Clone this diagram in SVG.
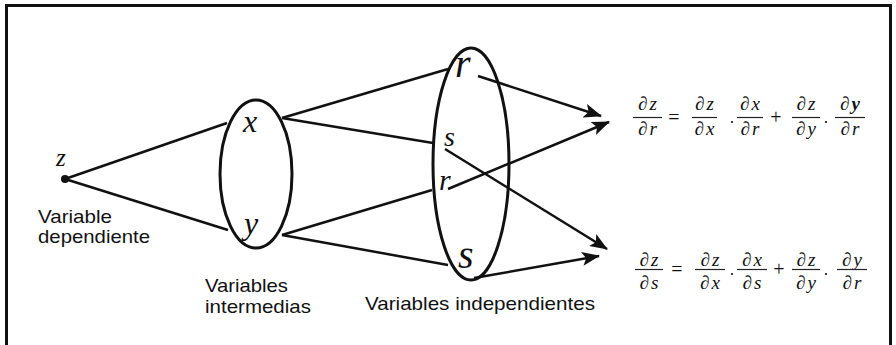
<svg xmlns="http://www.w3.org/2000/svg" width="896" height="345" viewBox="0 0 896 345">
<style>
.lbl{font-size:19px;fill:#111}
.var{font-style:italic;fill:#111}
.eq{font-size:19px;fill:#111;text-anchor:middle}
.eq .i{font-style:italic}
.op{font-size:20px;fill:#111;text-anchor:middle}
.fl{stroke:#222;stroke-width:1.2}
.ell{fill:none;stroke:#111;stroke-width:3}
.con{fill:none;stroke:#111;stroke-width:2.5}
.arr{fill:none;stroke:#111;stroke-width:2.5;marker-end:url(#ah)}
</style>
<defs>
<marker id="ah" markerUnits="userSpaceOnUse" markerWidth="18" markerHeight="14" viewBox="0 0 18 14" refX="17" refY="7" orient="auto">
<path d="M0,0 L18,7 L0,14 L4,7 Z" fill="#111"/>
</marker>
</defs>
<rect width="896" height="345" fill="#fff"/>
<path d="M6.5,345 V5.5 H890.5 V345" fill="none" stroke="#111" stroke-width="3"/>

<g id="connectors">
<line class="con" x1="65" y1="179" x2="227" y2="123"/>
<line class="con" x1="65" y1="179" x2="228" y2="230"/>
<line class="con" x1="282" y1="118" x2="448" y2="69"/>
<line class="con" x1="282" y1="118" x2="433" y2="143"/>
<line class="con" x1="282" y1="235" x2="432" y2="190"/>
<line class="con" x1="282" y1="235" x2="448" y2="265"/>
<line class="arr" x1="478" y1="76" x2="601" y2="116"/>
<line class="arr" x1="448" y1="189" x2="609" y2="122"/>
<line class="arr" x1="445" y1="149" x2="607" y2="249"/>
<line class="arr" x1="474" y1="278" x2="599" y2="256"/>
</g>

<g id="node-z">
<circle cx="65" cy="179" r="4" fill="#111"/>
<text class="var" font-family="Liberation Serif, serif" x="56" y="166" font-size="25">z</text>
<text class="lbl" font-family="Liberation Sans, sans-serif" x="38" y="223" textLength="74" lengthAdjust="spacingAndGlyphs">Variable</text>
<text class="lbl" font-family="Liberation Sans, sans-serif" x="38" y="243" textLength="112" lengthAdjust="spacingAndGlyphs">dependiente</text>
</g>

<g id="node-intermedias">
<ellipse class="ell" cx="256" cy="174" rx="36" ry="74"/>
<text class="var" font-family="Liberation Serif, serif" x="243" y="132" font-size="32">x</text>
<text class="var" font-family="Liberation Serif, serif" x="244" y="234" font-size="32">y</text>
<text class="lbl" font-family="Liberation Sans, sans-serif" x="205" y="292" textLength="83" lengthAdjust="spacingAndGlyphs">Variables</text>
<text class="lbl" font-family="Liberation Sans, sans-serif" x="205" y="313" textLength="106" lengthAdjust="spacingAndGlyphs">intermedias</text>
</g>

<g id="node-independientes">
<ellipse class="ell" cx="471" cy="164" rx="38" ry="116"/>
<text class="var" font-family="Liberation Serif, serif" x="455" y="77" font-size="40">r</text>
<text class="var" font-family="Liberation Serif, serif" x="444" y="146" font-size="28">s</text>
<text class="var" font-family="Liberation Serif, serif" x="439" y="190" font-size="30">r</text>
<text class="var" font-family="Liberation Serif, serif" x="458" y="268" font-size="40">s</text>
<text class="lbl" font-family="Liberation Sans, sans-serif" x="365" y="310" textLength="230" lengthAdjust="spacingAndGlyphs">Variables independientes</text>
</g>

<g id="eq-r" font-family="Liberation Serif, serif">
<text class="eq" x="647.5" y="110">∂<tspan class="i" dx="2">z</tspan></text>
<line class="fl" x1="633" y1="117.5" x2="662" y2="117.5"/>
<text class="eq" x="647.5" y="135">∂<tspan class="i" dx="2">r</tspan></text>
<text class="op" x="674" y="124">=</text>
<text class="eq" x="704.5" y="110">∂<tspan class="i" dx="2">z</tspan></text>
<line class="fl" x1="692" y1="117.5" x2="717" y2="117.5"/>
<text class="eq" x="704.5" y="135">∂<tspan class="i" dx="2">x</tspan></text>
<circle cx="732" cy="122" r="1.1" fill="#111"/>
<text class="eq" x="750" y="110">∂<tspan class="i" dx="2">x</tspan></text>
<line class="fl" x1="737" y1="117.5" x2="763" y2="117.5"/>
<text class="eq" x="750" y="135">∂<tspan class="i" dx="2">r</tspan></text>
<text class="op" x="776" y="124">+</text>
<text class="eq" x="806" y="110">∂<tspan class="i" dx="2">z</tspan></text>
<line class="fl" x1="792" y1="117.5" x2="820" y2="117.5"/>
<text class="eq" x="806" y="135">∂<tspan class="i" dx="2">y</tspan></text>
<circle cx="826" cy="122" r="1.1" fill="#111"/>
<text class="eq" x="850" y="110">∂<tspan class="i" dx="2" font-weight="bold">y</tspan></text>
<line class="fl" x1="835" y1="117.5" x2="865" y2="117.5"/>
<text class="eq" x="850" y="135">∂<tspan class="i" dx="2">r</tspan></text>
</g>

<g id="eq-s" font-family="Liberation Serif, serif">
<text class="eq" x="649" y="266">∂<tspan class="i" dx="2">z</tspan></text>
<line class="fl" x1="635" y1="269.5" x2="663" y2="269.5"/>
<text class="eq" x="649" y="289">∂<tspan class="i" dx="2">s</tspan></text>
<text class="op" x="677" y="276">=</text>
<text class="eq" x="710" y="266">∂<tspan class="i" dx="2">z</tspan></text>
<line class="fl" x1="695" y1="269.5" x2="725" y2="269.5"/>
<text class="eq" x="710" y="289">∂<tspan class="i" dx="2">x</tspan></text>
<circle cx="732" cy="274" r="1.1" fill="#111"/>
<text class="eq" x="752" y="266">∂<tspan class="i" dx="2">x</tspan></text>
<line class="fl" x1="737" y1="269.5" x2="767" y2="269.5"/>
<text class="eq" x="752" y="289">∂<tspan class="i" dx="2">s</tspan></text>
<text class="op" x="779" y="276">+</text>
<text class="eq" x="806" y="266">∂<tspan class="i" dx="2">z</tspan></text>
<line class="fl" x1="792" y1="269.5" x2="820" y2="269.5"/>
<text class="eq" x="806" y="289">∂<tspan class="i" dx="2">y</tspan></text>
<circle cx="826" cy="274" r="1.1" fill="#111"/>
<text class="eq" x="852" y="266">∂<tspan class="i" dx="2">y</tspan></text>
<line class="fl" x1="837" y1="269.5" x2="867" y2="269.5"/>
<text class="eq" x="852" y="289">∂<tspan class="i" dx="2">r</tspan></text>
</g>
</svg>
